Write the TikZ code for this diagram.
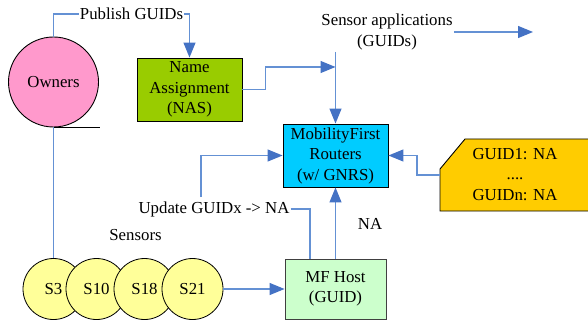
\documentclass[tikz,border=0pt]{standalone}
\usepackage{fontspec}
\setmainfont{Liberation Serif}
\usetikzlibrary{arrows.meta}
\definecolor{lineblue}{RGB}{100,145,212}
\definecolor{headblue}{RGB}{68,114,196}
\definecolor{ownpink}{RGB}{255,153,204}
\definecolor{nasgreen}{RGB}{153,204,0}
\definecolor{routcyan}{RGB}{0,204,255}
\definecolor{hostgreen}{RGB}{204,255,204}
\definecolor{guidyellow}{RGB}{255,204,0}
\definecolor{senyellow}{RGB}{255,255,153}
\tikzset{
  txt/.style={font=\fontsize{16.8}{20.5}\selectfont, align=center, inner sep=1pt},
  box/.style={txt, draw=black, line width=0.9pt, minimum width=105pt, minimum height=63pt, inner sep=0pt},
  sensor/.style={txt, circle, draw=black, line width=0.8pt, fill=senyellow, minimum size=61pt, inner sep=0pt},
  conn/.style={draw=lineblue, line width=1.2pt},
  arr/.style={conn, -{Triangle[length=15pt,width=12pt,color=headblue]}}
}
\begin{document}
\begin{tikzpicture}[x=1pt,y=-1pt]
\useasboundingbox (0,0) rectangle (588,323);
% nodes
\node[txt, circle, draw=black, line width=0.9pt, fill=ownpink, minimum size=90pt, inner sep=0pt] (owners) at (53.5,82) {Owners};
\node[box, fill=nasgreen] (nas) at (189.5,89.5) {Name\\Assignment\\(NAS)};
\node[box, fill=routcyan] (router) at (335.5,155.5) {MobilityFirst\\Routers\\(w/ GNRS)};
\node[box, fill=hostgreen, minimum width=101pt, minimum height=60pt, draw=black!75] (host) at (335.5,289) {MF Host\\(GUID)};
\node[txt] (pub) at (131.5,14) {Publish GUIDs};
\node[txt] (sa) at (387,32) {Sensor applications\\(GUIDs)};
\node[txt] (upd) at (214,209) {Update GUIDx -> NA};
\node[txt] (sens) at (135.5,235) {Sensors};
\node[txt] (na) at (370,224) {NA};
% GUID table shape
\draw[fill=guidyellow, line width=0.9pt] (465,139) -- (594,139) -- (594,211) -- (440,211) -- (440,169) -- cycle;
\node[txt] (guid) at (515,174.5) {GUID1: NA\\....\\GUIDn: NA};
\coordinate (gl) at (440,175);
% sensors
\node[sensor] (s3) at (53.5,289) {S3};
\node[sensor] (s10) at (96.5,289) {S10};
\node[sensor] (s18) at (144.5,289) {S18};
\node[sensor] (s21) at (192.5,289) {S21};
% coordinates
\coordinate (satop) at (335.5,52);
\coordinate (junc) at (335.5,67);
\coordinate (updtop) at (201,197);
\coordinate (saend) at (533,32);
% connectors
\draw[conn] (owners.north) |- (pub.west);
\draw[arr] (pub.east) -| (nas.north);
\draw[black, line width=0.9pt] (owners.south) -- ++(46,0);
\draw[conn] (owners.south) -- (s3.north);
\draw[arr] (nas.east) -- ++(23,0) |- (junc);
\draw[arr] (satop) -- (router.north);
\draw[arr] (sa.east) -- (saend);
\draw[arr] (gl) -- ++(-23,0) |- (router.east);
\draw[arr] (updtop) |- (router.west);
\draw[conn] (upd.east) -| ([xshift=-25.5pt]host.north);
\draw[arr] (host.north) -- (router.south);
\draw[arr] (s21.east) -- (host.west);
\end{tikzpicture}
\end{document}
